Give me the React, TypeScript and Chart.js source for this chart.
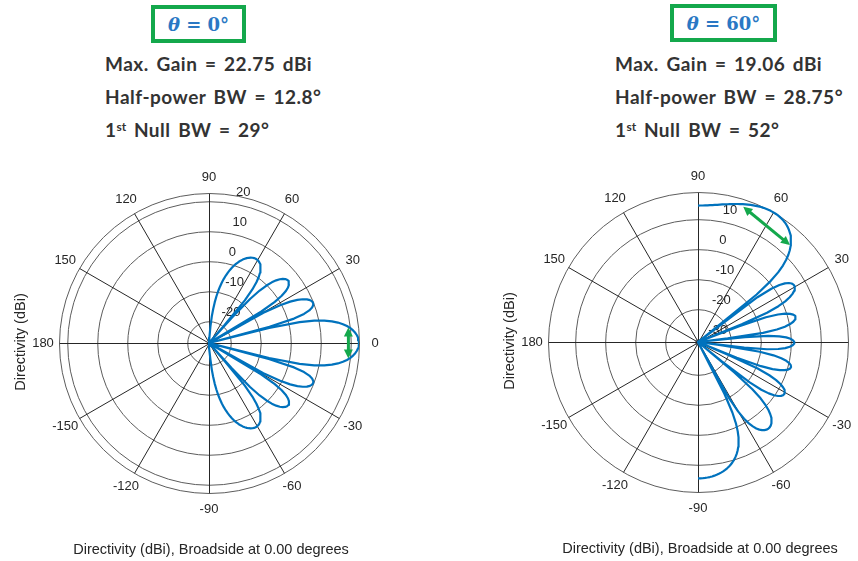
import React, { useEffect, useRef } from 'react';
import { Chart, registerables } from 'chart.js';

Chart.register(...registerables);

// ---------------- data ----------------
// Left pattern: broadside (theta = 0 deg), directivity in dBi vs angle in degrees
const LEFT_ANGLES = [
  -90, -89, -88, -87, -86, -85, -84, -83, -82, -81,
  -80, -79, -78, -77, -76, -75, -74, -73, -72, -71,
  -70, -69, -68, -67, -66, -65, -64, -63, -62, -61,
  -60, -59, -58, -57, -56, -55, -54, -53, -52, -51,
  -50, -49, -48.59, -48, -47, -46, -45, -44, -43, -42,
  -41, -40, -39, -38, -37, -36, -35, -34, -33, -32,
  -31, -30, -29, -28, -27, -26, -25, -24, -23, -22,
  -21, -20, -19, -18, -17, -16, -15, -14.48, -14, -13,
  -12, -11, -10, -9, -8, -7, -6, -5, -4, -3,
  -2, -1, 0, 1, 2, 3, 4, 5, 6, 7,
  8, 9, 10, 11, 12, 13, 14, 14.48, 15, 16,
  17, 18, 19, 20, 21, 22, 23, 24, 25, 26,
  27, 28, 29, 30, 31, 32, 33, 34, 35, 36,
  37, 38, 39, 40, 41, 42, 43, 44, 45, 46,
  47, 48, 48.59, 49, 50, 51, 52, 53, 54, 55,
  56, 57, 58, 59, 60, 61, 62, 63, 64, 65,
  66, 67, 68, 69, 70, 71, 72, 73, 74, 75,
  76, 77, 78, 79, 80, 81, 82, 83, 84, 85,
  86, 87, 88, 89, 90,
];
const LEFT_VALUES = [
  -60, -49.6, -37.6, -30.5, -25.57, -21.72, -18.33, -15.9, -13.59, -11.56,
  -9.74, -8.12, -6.65, -5.3, -4.07, -2.94, -1.9, -0.94, -0.07, 0.74,
  1.47, 2.14, 2.73, 3.26, 3.71, 4.09, 4.41, 4.64, 4.8, 4.86,
  4.82, 4.69, 4.43, 4.03, 3.47, 2.7, 1.68, 0.31, -1.57, -4.28,
  -8.68, -19.22, -60, -15.89, -7.19, -2.94, -0.15, 1.86, 3.37, 4.51,
  5.34, 5.91, 6.24, 6.32, 6.14, 5.66, 4.84, 3.57, 1.65, -1.39,
  -7.02, -60, -6.52, -0.4, 3.12, 5.52, 7.24, 8.47, 9.31, 9.8,
  9.95, 9.74, 9.09, 7.9, 5.87, 2.24, -6.38, -60, -6.58, 3.72,
  8.62, 11.9, 14.34, 16.27, 17.83, 19.09, 20.13, 20.96, 21.62, 22.12,
  22.48, 22.68, 22.75, 22.68, 22.48, 22.12, 21.62, 20.96, 20.13, 19.09,
  17.83, 16.27, 14.34, 11.9, 8.62, 3.72, -6.58, -60, -6.38, 2.24,
  5.87, 7.9, 9.09, 9.74, 9.95, 9.8, 9.31, 8.47, 7.24, 5.52,
  3.12, -0.4, -6.52, -60, -7.02, -1.39, 1.65, 3.57, 4.84, 5.66,
  6.14, 6.32, 6.24, 5.91, 5.34, 4.51, 3.37, 1.86, -0.15, -2.94,
  -7.19, -15.89, -60, -19.22, -8.68, -4.28, -1.57, 0.31, 1.68, 2.7,
  3.47, 4.03, 4.43, 4.69, 4.82, 4.86, 4.8, 4.64, 4.41, 4.09,
  3.71, 3.26, 2.73, 2.14, 1.47, 0.74, -0.07, -0.94, -1.9, -2.94,
  -4.07, -5.3, -6.65, -8.12, -9.74, -11.56, -13.59, -15.9, -18.33, -21.72,
  -25.57, -30.5, -37.6, -49.6, -60,
];

// Right pattern: scanned (theta = 60 deg)
const RIGHT_ANGLES = [
  -90, -89, -88, -87, -86, -85, -84, -83, -82, -81,
  -80, -79, -78, -77, -76, -75, -74, -73, -72, -71,
  -70, -69, -68, -67, -66, -65, -64, -63, -62.11, -62,
  -61, -60, -59, -58, -57, -56, -55, -54, -53, -52,
  -51, -50, -49, -48, -47, -46, -45, -44, -43, -42,
  -41, -40, -39.35, -39, -38, -37, -36, -35, -34, -33,
  -32, -31, -30, -29, -28, -27, -26, -25, -24, -23,
  -22.58, -22, -21, -20, -19, -18, -17, -16, -15, -14,
  -13, -12, -11, -10, -9, -8, -7.7, -7, -6, -5,
  -4, -3, -2, -1, 0, 1, 2, 3, 4, 5,
  6, 6.66, 7, 8, 9, 10, 11, 12, 13, 14,
  15, 16, 17, 18, 19, 20, 21, 21.47, 22, 23,
  24, 25, 26, 27, 28, 29, 30, 31, 32, 33,
  34, 35, 36, 37, 38, 39, 40, 41, 42, 43,
  44, 45, 46, 47, 48, 49, 50, 51, 52, 53,
  54, 55, 56, 57, 58, 59, 60, 61, 62, 63,
  64, 65, 66, 67, 68, 69, 70, 71, 72, 73,
  74, 75, 76, 77, 78, 79, 80, 81, 82, 83,
  84, 85, 86, 87, 88, 89, 90,
];
const RIGHT_VALUES = [
  14.54, 14.52, 14.5, 14.44, 14.35, 14.25, 14.12, 13.95, 13.76, 13.54,
  13.28, 12.98, 12.64, 12.26, 11.82, 11.33, 10.77, 10.14, 9.41, 8.58,
  7.62, 6.51, 5.18, 3.58, 1.58, -1.03, -4.8, -11.49, -60, -28.6,
  -9.58, -4.24, -1.11, 1.04, 2.61, 3.81, 4.71, 5.37, 5.84, 6.14,
  6.26, 6.22, 6.01, 5.62, 5.03, 4.23, 3.13, 1.71, -0.22, -2.87,
  -6.93, -15.0, -60, -20.72, -9.07, -4.52, -1.8, 0.02, 1.24, 2.05,
  2.5, 2.63, 2.46, 1.98, 1.15, -0.12, -1.96, -4.7, -9.17, -19.7,
  -60, -16.98, -8.45, -4.5, -2.08, -0.52, 0.48, 1.03, 1.17, 0.92,
  0.27, -0.86, -2.65, -5.39, -10.1, -22.71, -60, -15.4, -7.82, -4.1,
  -1.79, -0.29, 0.63, 1.09, 1.14, 0.76, -0.08, -1.5, -3.76, -7.47,
  -15.21, -60, -20.99, -9.03, -4.32, -1.53, 0.32, 1.53, 2.28, 2.61,
  2.55, 2.09, 1.16, -0.35, -2.76, -6.85, -16.43, -60, -15.23, -5.94,
  -1.6, 1.14, 3.06, 4.41, 5.36, 5.95, 6.23, 6.21, 5.87, 5.17,
  4.0, 2.19, -0.71, -6.12, -37.2, -5.79, 0.65, 4.45, 7.16, 9.25,
  10.93, 12.33, 13.5, 14.49, 15.34, 16.06, 16.68, 17.2, 17.64, 18.01,
  18.32, 18.56, 18.75, 18.89, 18.99, 19.04, 19.06, 19.04, 19.0, 18.92,
  18.82, 18.7, 18.55, 18.38, 18.2, 18.01, 17.8, 17.59, 17.37, 17.14,
  16.91, 16.68, 16.45, 16.23, 16.01, 15.8, 15.61, 15.42, 15.24, 15.09,
  14.95, 14.83, 14.73, 14.65, 14.59, 14.56, 14.55,
];

// magnitude axis limits and rings (dBi)
const LEFT_MIN = -27.25;
const LEFT_MAX = 22.75;
const LEFT_RINGS = [-20, -10, 0, 10, 20];
const RIGHT_MIN = -30.94;
const RIGHT_MAX = 19.06;
const RIGHT_RINGS = [-30, -20, -10, 0, 10];

// angle ticks (deg)
const ANGLE_TICKS = [0, 30, 60, 90, 120, 150, 180, -150, -120, -90, -60, -30];

// half-power beamwidth markers: [angle deg, dBi]
const LEFT_ARROW = [[6.3, 19.5], [-6.3, 19.5]];
const RIGHT_ARROW = [[71.5, 16.6], [46.5, 13.6]];

// header values
const LEFT_SCAN = 0;
const LEFT_GAIN = '22.75';
const LEFT_HPBW = '12.8';
const LEFT_FNBW = '29';
const RIGHT_SCAN = 60;
const RIGHT_GAIN = '19.06';
const RIGHT_HPBW = '28.75';
const RIGHT_FNBW = '52';

const Y_TITLE = 'Directivity (dBi)';
const X_TITLE = 'Directivity (dBi), Broadside at 0.00 degrees';

// ---------------- style ----------------
const FONT = '"Liberation Sans", Arial, Helvetica, sans-serif';
const LINE_BLUE = '#0072bd';
const GREEN = '#14a84c';
const TITLE_BLUE = '#2a78c4';
const RING_COLOR = '#5c5c5c';
const SPOKE_COLOR = '#262626';
const TEXT_COLOR = '#262626';

type Cfg = {
  angles: number[];
  values: number[];
  min: number;
  max: number;
  rings: number[];
  arrow: number[][];
};

function toXY(angles: number[], values: number[], min: number) {
  return angles.map((a, i) => {
    const r = Math.max(values[i], min) - min;
    const t = (a * Math.PI) / 180;
    return { x: r * Math.cos(t), y: r * Math.sin(t) };
  });
}

function drawArrow(ctx: CanvasRenderingContext2D, x1: number, y1: number, x2: number, y2: number) {
  const dx = x2 - x1;
  const dy = y2 - y1;
  const L = Math.hypot(dx, dy);
  const ux = dx / L;
  const uy = dy / L;
  const head = 9;
  const hw = 4.5;
  ctx.save();
  ctx.strokeStyle = GREEN;
  ctx.fillStyle = GREEN;
  ctx.lineWidth = 3;
  ctx.beginPath();
  ctx.moveTo(x1 + ux * head * 0.7, y1 + uy * head * 0.7);
  ctx.lineTo(x2 - ux * head * 0.7, y2 - uy * head * 0.7);
  ctx.stroke();
  const ends: [number, number, number][] = [
    [x1, y1, 1],
    [x2, y2, -1],
  ];
  for (const [tx, ty, s] of ends) {
    const bx = tx + s * ux * head;
    const by = ty + s * uy * head;
    ctx.beginPath();
    ctx.moveTo(tx, ty);
    ctx.lineTo(bx - uy * hw, by + ux * hw);
    ctx.lineTo(bx + uy * hw, by - ux * hw);
    ctx.closePath();
    ctx.fill();
  }
  ctx.restore();
}

function makePlugin(cfg: Cfg) {
  const geom = (chart: any) => {
    const xs = chart.scales.x;
    const ys = chart.scales.y;
    const cx = xs.getPixelForValue(0);
    const cy = ys.getPixelForValue(0);
    const k = xs.getPixelForValue(1) - cx;
    const rad = (v: number) => (Math.max(v, cfg.min) - cfg.min) * k;
    return { cx, cy, rad, R: rad(cfg.max) };
  };
  return {
    id: 'polarGrid',
    beforeDatasetsDraw(chart: any) {
      const ctx: CanvasRenderingContext2D = chart.ctx;
      const { cx, cy, rad, R } = geom(chart);
      ctx.save();
      ctx.lineWidth = 1;
      ctx.strokeStyle = RING_COLOR;
      for (const v of [...cfg.rings, cfg.max]) {
        ctx.beginPath();
        ctx.arc(cx + 0.5, cy + 0.5, rad(v), 0, Math.PI * 2);
        ctx.stroke();
      }
      ctx.strokeStyle = SPOKE_COLOR;
      for (const a of ANGLE_TICKS) {
        const t = (a * Math.PI) / 180;
        ctx.beginPath();
        ctx.moveTo(cx + 0.5, cy + 0.5);
        ctx.lineTo(cx + 0.5 + R * Math.cos(t), cy + 0.5 - R * Math.sin(t));
        ctx.stroke();
      }
      ctx.fillStyle = TEXT_COLOR;
      ctx.font = `13px ${FONT}`;
      ctx.textAlign = 'center';
      ctx.textBaseline = 'middle';
      for (const a of ANGLE_TICKS) {
        const t = (a * Math.PI) / 180;
        ctx.fillText(String(a), cx + (R + 16) * Math.cos(t), cy - (R + 16) * Math.sin(t));
      }
      ctx.textAlign = 'left';
      for (const v of cfg.rings) {
        const r = rad(v);
        ctx.fillText(String(v), cx + 10 + 0.12 * r, cy - r - 9);
      }
      ctx.restore();
    },
    afterDatasetsDraw(chart: any) {
      const ctx: CanvasRenderingContext2D = chart.ctx;
      const { cx, cy, rad } = geom(chart);
      const pts = cfg.arrow.map(([a, v]) => {
        const t = (a * Math.PI) / 180;
        const r = rad(v);
        return [cx + r * Math.cos(t), cy - r * Math.sin(t)];
      });
      drawArrow(ctx, pts[0][0], pts[0][1], pts[1][0], pts[1][1]);
    },
    afterDraw(chart: any) {
      const ctx: CanvasRenderingContext2D = chart.ctx;
      const { cx, cy } = geom(chart);
      ctx.save();
      ctx.fillStyle = TEXT_COLOR;
      ctx.font = `14.5px ${FONT}`;
      ctx.textAlign = 'center';
      ctx.textBaseline = 'middle';
      ctx.fillText(X_TITLE, cx + 2, cy + 207);
      ctx.translate(cx - 188, cy - 1);
      ctx.rotate(-Math.PI / 2);
      ctx.fillText(Y_TITLE, 0, 0);
      ctx.restore();
    },
  };
}

function buildChart(canvas: HTMLCanvasElement, cfg: Cfg, padding: any) {
  const span = cfg.max - cfg.min;
  return new Chart(canvas, {
    type: 'scatter',
    data: {
      datasets: [
        {
          data: toXY(cfg.angles, cfg.values, cfg.min),
          showLine: true,
          borderColor: LINE_BLUE,
          backgroundColor: LINE_BLUE,
          borderWidth: 2.2,
          borderJoinStyle: 'round',
          pointRadius: 0,
          pointHoverRadius: 0,
          tension: 0,
          fill: false,
        } as any,
      ],
    },
    options: {
      responsive: false,
      animation: false,
      devicePixelRatio: 1,
      layout: { padding },
      scales: {
        x: { type: 'linear', min: -span, max: span, display: false },
        y: { type: 'linear', min: -span, max: span, display: false },
      },
      plugins: {
        legend: { display: false },
        tooltip: { enabled: false },
      },
      events: [],
    },
    plugins: [makePlugin(cfg) as any],
  });
}

const statStyle = (left: number, top: number): React.CSSProperties => ({
  position: 'absolute',
  left,
  top,
  height: 24,
  lineHeight: '24px',
  whiteSpace: 'nowrap',
  fontFamily: 'Lato, "Open Sans", sans-serif',
  fontWeight: 700,
  fontSize: 19,
  letterSpacing: 0.5,
  wordSpacing: 2.5,
  color: '#333333',
});

const boxStyle = (left: number, top: number, width: number, height: number): React.CSSProperties => ({
  position: 'absolute',
  left,
  top,
  width,
  height,
  boxSizing: 'border-box',
  border: `4px solid ${GREEN}`,
  display: 'flex',
  alignItems: 'center',
  justifyContent: 'center',
  color: TITLE_BLUE,
  fontFamily: '"DejaVu Serif", serif',
  fontWeight: 700,
  fontSize: 18,
  whiteSpace: 'pre',
  background: '#fff',
});

function Header({ x, boxX, boxY, boxW, boxH, scan, gain, hpbw, fnbw }: any) {
  return (
    <>
      <div style={boxStyle(boxX, boxY, boxW, boxH)}>
        <span style={{ fontStyle: 'italic' }}>θ</span>
        <span>{` = ${scan}`}</span>
        <span style={{ fontStyle: 'italic' }}>°</span>
      </div>
      <div style={statStyle(x, 52)}>{`Max. Gain = ${gain} dBi`}</div>
      <div style={statStyle(x, 84.5)}>{`Half-power BW = ${hpbw}°`}</div>
      <div style={statStyle(x, 117.5)}>
        1<span style={{ fontSize: 12, position: 'relative', top: -6, letterSpacing: 0 }}>st</span>
        {` Null BW = ${fnbw}°`}
      </div>
    </>
  );
}

export default function App() {
  const leftRef = useRef<HTMLCanvasElement | null>(null);
  const rightRef = useRef<HTMLCanvasElement | null>(null);

  useEffect(() => {
    const left = buildChart(
      leftRef.current!,
      { angles: LEFT_ANGLES, values: LEFT_VALUES, min: LEFT_MIN, max: LEFT_MAX, rings: LEFT_RINGS, arrow: LEFT_ARROW },
      { left: 59, right: 70, top: 43, bottom: 68 }
    );
    const right = buildChart(
      rightRef.current!,
      { angles: RIGHT_ANGLES, values: RIGHT_VALUES, min: RIGHT_MIN, max: RIGHT_MAX, rings: RIGHT_RINGS, arrow: RIGHT_ARROW },
      { left: 119, right: 10, top: 42, bottom: 69 }
    );
    return () => {
      left.destroy();
      right.destroy();
    };
  }, []);

  return (
    <div
      style={{
        position: 'fixed',
        left: 0,
        top: 0,
        width: 858,
        height: 561,
        background: '#fff',
        overflow: 'hidden',
      }}
    >
      <Header x={105} boxX={151} boxY={5} boxW={95} boxH={38} scan={LEFT_SCAN} gain={LEFT_GAIN} hpbw={LEFT_HPBW} fnbw={LEFT_FNBW} />
      <Header x={615} boxX={670} boxY={4} boxW={107} boxH={38} scan={RIGHT_SCAN} gain={RIGHT_GAIN} hpbw={RIGHT_HPBW} fnbw={RIGHT_FNBW} />
      <canvas ref={leftRef} width={429} height={411} style={{ position: 'absolute', left: 0, top: 150 }} />
      <canvas ref={rightRef} width={429} height={411} style={{ position: 'absolute', left: 429, top: 150 }} />
    </div>
  );
}
